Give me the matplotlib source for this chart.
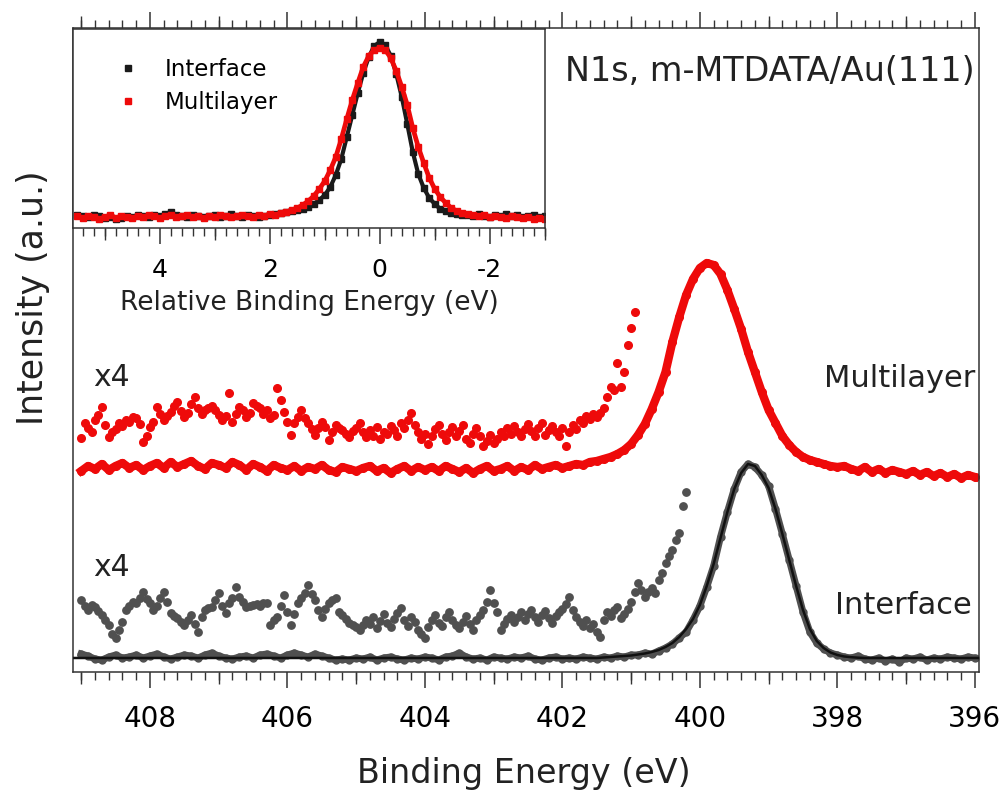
import numpy as np
import matplotlib
matplotlib.use('Agg')
import matplotlib.pyplot as plt
from matplotlib.ticker import MultipleLocator, NullLocator
from matplotlib.lines import Line2D

plt.rcParams['font.family'] = 'DejaVu Sans'
plt.rcParams['axes.unicode_minus'] = False

RED = '#ee0a0a'
GREY = '#505050'

# main panel: intensity (a.u.) every 0.1 eV, from 409.0 eV down to 396.0 eV
multilayer = [201, 206, 203, 208, 202, 206, 209, 204, 207, 202, 206,
              209, 204, 210, 205, 208, 211, 206, 203, 209, 207,
              204, 210, 207, 202, 208, 205, 201, 207, 204, 202,
              206, 201, 205, 203, 207, 202, 200, 205, 203, 201,
              204, 206, 201, 204, 199, 203, 206, 201, 205, 202,
              205, 201, 206, 203, 200, 204, 199, 203, 206, 201,
              203, 206, 201, 205, 202, 207, 203, 205, 207, 204,
              206, 208, 207, 210, 211, 213, 215, 218, 222, 228,
              237, 248, 263, 280, 300, 330, 355, 377, 393, 404,
              409, 407, 398, 382, 363, 343, 320, 300, 280, 262,
              249, 236, 227, 220, 215, 212, 210, 208, 206, 205,
              206, 203, 201, 205, 200, 203, 199, 202, 200, 198,
              201, 197, 200, 196, 199, 195, 198, 194, 197, 195]

interface = [18, 16, 13, 12, 15, 17, 14, 15, 17, 14, 16,
             18, 15, 13, 15, 17, 16, 14, 17, 19, 16,
             14, 13, 15, 16, 14, 17, 18, 16, 14, 17,
             19, 17, 15, 18, 16, 14, 12, 13, 12, 14,
             13, 15, 12, 14, 15, 13, 12, 14, 13, 15,
             14, 12, 15, 16, 19, 15, 13, 14, 12, 15,
             14, 13, 15, 14, 16, 13, 12, 14, 15, 13,
             14, 13, 15, 14, 13, 15, 14, 16, 15, 17,
             17, 19, 18, 21, 24, 28, 34, 40, 52, 66,
             85, 106, 135, 160, 183, 200, 208, 205, 197, 186,
             163, 138, 112, 86, 60, 40, 29, 23, 19, 17,
             15, 14, 16, 13, 12, 14, 11, 13, 10, 14,
             13, 15, 12, 14, 13, 15, 14, 13, 15, 14]

# x4 magnified tails, every 0.05 eV from 409.0 eV
multilayer_x4 = [234, 249, 244, 240, 252, 257, 265, 247, 235, 240,
                 243, 249, 246, 252, 250, 255, 254, 248, 230, 236,
                 245, 250, 265, 258, 252, 256, 260, 266, 270, 261,
                 255, 259, 268, 275, 264, 258, 262, 264, 266, 262,
                 257, 252, 256, 279, 250, 258, 265, 262, 255, 259,
                 269, 266, 264, 258, 262, 254, 257, 284, 272, 260,
                 250, 237, 249, 255, 262, 254, 249, 243, 237, 244,
                 250, 245, 232, 240, 247, 244, 242, 238, 235, 241,
                 244, 249, 240, 235,
                 242, 236, 245, 233, 240, 238, 246, 242, 236, 249,
                 244, 252, 259, 247, 240, 233, 238, 228, 236, 243,
                 247, 238, 232, 240, 245, 236, 241, 247, 233, 229,
                 238, 244, 236, 226, 231, 237, 229, 233, 240, 236,
                 244, 238, 246, 240, 236, 243, 248, 241, 236, 244,
                 249, 237, 242, 246, 240, 236, 244, 226, 240, 247,
                 243, 252, 249, 256, 253, 258, 255, 259, 264, 275,
                 285, 282, 309, 285, 300, 327, 344, 360]

interface_x4 = [72, 66, 62, 67, 65, 61, 57, 52, 47, 38,
                34, 42, 50, 62, 66, 70, 69, 74, 80, 73,
                69, 62, 66, 74, 80, 70, 59, 56, 54, 50,
                47, 52, 57, 48, 40, 55, 62, 64, 65, 72,
                79, 66, 59, 69, 74, 85, 75, 70, 65, 66,
                67, 68, 66, 69, 69, 47, 52, 55, 66, 77,
                60, 47, 58, 69, 74, 79, 87, 78, 72, 62,
                55, 63, 69, 72, 74, 60, 57, 53, 49, 47,
                45, 42, 47, 52,
                48, 55, 44, 51, 58, 49, 45, 53, 59, 64,
                52, 46, 55, 50, 42, 38, 34, 45, 52, 57,
                49, 46, 55, 60, 52, 47, 44, 50, 56, 48,
                42, 52, 57, 62, 70, 82, 69, 60, 42, 48,
                53, 57, 50, 55, 60, 52, 58, 62, 55, 50,
                57, 61, 54, 49, 56, 60, 63, 68, 75, 62,
                55, 50, 46, 52, 44, 48, 40, 35, 52, 60,
                56, 62, 65, 54, 58, 63, 70, 80, 89, 82,
                75, 80, 84, 79, 92, 99, 109, 116, 122, 132,
                139, 166, 180]

# fitted curve through the interface spectrum
fit_be = [409.1] + list(np.round(np.arange(401.5, 397.45, -0.1), 2)) + [395.9]
fit_y = [14, 14, 14.5, 15, 15.5, 16, 16.5, 17.5, 18.5, 20, 22,
         25, 29, 35, 43, 53, 67, 86, 108, 134, 160,
         183, 199, 208, 206, 197, 184, 163, 138, 112, 86,
         62, 43, 31, 24, 19.5, 17, 15.5, 14.8, 14.3, 14, 14, 14]

# inset: normalised peaks every 0.1 eV, relative BE from 5.5 down to -3.0
inset_interface = [13, 12, 11, 13, 12, 10, 11, 9, 10, 12,
                   11, 13, 12, 11, 13, 12, 14, 16, 13, 12,
                   11, 13, 12, 11, 12, 13, 11, 12, 14, 12,
                   11, 13, 12, 11, 12, 13, 14,
                   15, 16, 17, 18, 19, 21, 24, 28, 33, 41,
                   53, 69, 91, 113, 135, 155, 171, 182, 186, 183,
                   172, 154, 131, 104, 76, 54, 40, 30, 24, 19,
                   17, 15, 14, 13,
                   13, 12, 14, 12, 11, 13, 12, 14, 12, 13, 11, 12, 13, 11, 12]

inset_multilayer = [12, 10, 12, 11, 9, 11, 13, 10, 12, 11,
                    10, 12, 11, 13, 12, 10, 12, 13, 11, 12,
                    13, 11, 12, 10, 12, 11, 13, 12, 11, 12,
                    13, 12, 11, 13, 12, 14, 13,
                    15, 16, 18, 20, 23, 27, 32, 39, 47, 58,
                    71, 89, 109, 128, 145, 161, 172, 178, 180, 178,
                    170, 157, 141, 123, 100, 81, 65, 50, 39, 31,
                    25, 20, 17, 15,
                    14, 13, 12, 13, 11, 12, 11, 10, 12, 11, 10, 11, 9, 10, 9]

main_odd_ticks = [409, 407, 405, 403, 401, 399, 397]
inset_odd_ticks = [5, 3, 1, -1, -3]


def energy_axis(start, step, values):
    return np.round(start - step * np.arange(len(values)), 3)


def style_ticks(axis, size, pad, top):
    axis.tick_params(axis='x', which='major', direction='out', length=11.5, width=1.1,
                     top=top, bottom=True, labelsize=size, pad=pad, color='#333333')
    axis.tick_params(axis='x', which='minor', direction='out', length=5.8, width=1.0,
                     top=top, bottom=True, color='#333333')
    axis.set_yticks([])
    for sp in axis.spines.values():
        sp.set_color('#333333')
        sp.set_linewidth(1.1)


def mid_ticks(axis, where, ticks):
    sec = axis.secondary_xaxis(where)
    sec.set_xticks(ticks)
    sec.xaxis.set_minor_locator(NullLocator())
    sec.tick_params(axis='x', direction='out', length=8.5, width=1.0, color='#333333',
                    labelbottom=False, labeltop=False)
    sec.spines[where].set_visible(False)


fig = plt.figure(figsize=(10.08, 7.93), dpi=100)
ax = fig.add_axes([0.0724, 0.1526, 0.8988, 0.8121])

be = energy_axis(409.0, 0.1, interface)
ax.plot(be, interface, color=GREY, marker='o', ms=5, lw=5, zorder=2)
ax.plot(fit_be, fit_y, color='#111111', lw=1.8, zorder=3)
ax.plot(energy_axis(409.0, 0.05, interface_x4), interface_x4, 'o', color=GREY, ms=5.3, zorder=2)

ax.plot(energy_axis(409.0, 0.1, multilayer), multilayer, color=RED, marker='o', ms=5.5, lw=6, zorder=2)
ax.plot(energy_axis(409.0, 0.05, multilayer_x4), multilayer_x4, 'o', color=RED, ms=5.5, zorder=2)

ax.set_xlim(409.12, 395.94)
ax.set_ylim(0, 644)
ax.xaxis.set_major_locator(MultipleLocator(2))
ax.xaxis.set_minor_locator(MultipleLocator(0.2))
style_ticks(ax, 20, 12, True)
mid_ticks(ax, 'bottom', main_odd_ticks)
mid_ticks(ax, 'top', main_odd_ticks)

ax.text(0.9956, 0.9317, 'N1s, m-MTDATA/Au(111)', transform=ax.transAxes,
        ha='right', va='center', fontsize=24, color='#222222')
ax.text(0.9956, 0.4565, 'Multilayer', transform=ax.transAxes,
        ha='right', va='center', fontsize=22, color='#222222')
ax.text(0.9923, 0.104, 'Interface', transform=ax.transAxes,
        ha='right', va='center', fontsize=22, color='#222222')
ax.text(0.022, 0.458, 'x4', transform=ax.transAxes, ha='left', va='center', fontsize=21.5, color='#222222')
ax.text(0.022, 0.1615, 'x4', transform=ax.transAxes, ha='left', va='center', fontsize=21.5, color='#222222')

fig.text(0.520, 0.0126, 'Binding Energy (eV)', ha='center', va='baseline', fontsize=24, color='#222222')
fig.text(0.0327, 0.624, 'Intensity (a.u.)', rotation=90, ha='center', va='center', fontsize=25, color='#222222')

# inset
ax_in = fig.add_axes([0.0724, 0.7125, 0.468, 0.251])
rel = energy_axis(5.5, 0.1, inset_interface)
ax_in.plot(rel, inset_interface, color='#1a1a1a', marker='s', ms=4.2, lw=3)
ax_in.plot(energy_axis(5.5, 0.1, inset_multilayer), inset_multilayer, color=RED, marker='s', ms=4.6, lw=3.4)
ax_in.set_xlim(5.58, -3.0)
ax_in.set_ylim(0, 199)
ax_in.xaxis.set_major_locator(MultipleLocator(2))
ax_in.xaxis.set_minor_locator(MultipleLocator(0.2))
style_ticks(ax_in, 18, 10, False)
mid_ticks(ax_in, 'bottom', inset_odd_ticks)

handles = [Line2D([], [], color='#1a1a1a', marker='s', ls='none', ms=4),
           Line2D([], [], color=RED, marker='s', ls='none', ms=4)]
ax_in.legend(handles, ['Interface', 'Multilayer'], loc='upper left', bbox_to_anchor=(0.092, 0.852),
             frameon=False, fontsize=16.5, handlelength=1.0, handletextpad=1.1,
             labelspacing=0.4, borderpad=0, borderaxespad=0)

fig.text(0.3066, 0.609, 'Relative Binding Energy (eV)', ha='center', va='baseline', fontsize=19, color='#222222')

fig.savefig('out.png', dpi=100)
